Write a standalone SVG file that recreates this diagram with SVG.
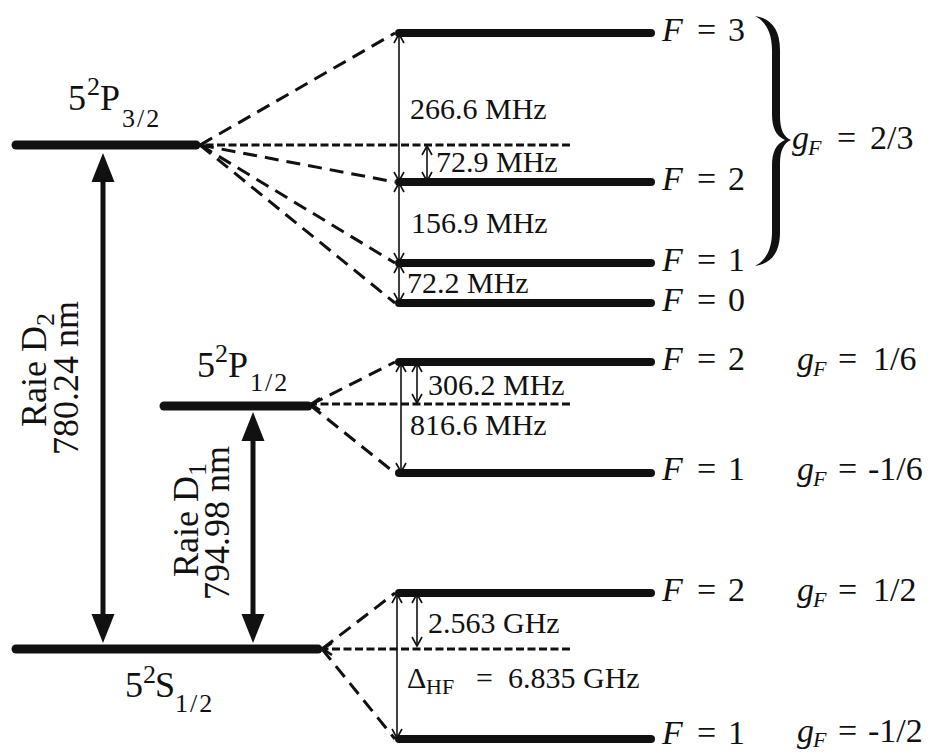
<svg xmlns="http://www.w3.org/2000/svg" width="940" height="754" viewBox="0 0 940 754">
<style>
.t{font-family:"Liberation Serif","DejaVu Serif",serif;fill:#111}
.lv{font-size:36px}
.ss{font-size:26px}
.sl{letter-spacing:2px}
.fr{font-size:30px}
.fl{font-size:34px}
.sub{font-size:22px}
.it{font-style:italic}
.fine{stroke:#111;stroke-width:9;stroke-linecap:round;fill:none}
.hf{stroke:#111;stroke-width:8;stroke-linecap:round;fill:none}
.dash{stroke:#111;stroke-width:3;stroke-dasharray:14 8;fill:none}
.cdash{stroke:#111;stroke-width:3;stroke-dasharray:8 3.5;fill:none}
.gap{stroke:#111;stroke-width:1.6;fill:none}
.big{stroke:#111;stroke-width:5;fill:none}
</style>
<defs>
<marker id="oa" markerUnits="userSpaceOnUse" viewBox="-11 -7 13 14" markerWidth="13" markerHeight="14" refX="0" refY="0" orient="auto-start-reverse">
<path d="M-9,-5 L0,0 L-9,5" fill="none" stroke="#111" stroke-width="1.6" stroke-dasharray="none"/>
</marker>
<marker id="da" markerUnits="userSpaceOnUse" viewBox="-12 -8 14 16" markerWidth="14" markerHeight="16" refX="0" refY="0" orient="auto">
<path d="M-9,-6 L0,0 L-9,6" fill="none" stroke="#111" stroke-width="2.5" stroke-dasharray="none"/>
</marker>
<marker id="bg" markerUnits="userSpaceOnUse" viewBox="0 -12 30 24" markerWidth="30" markerHeight="24" refX="0" refY="0" orient="auto-start-reverse">
<path d="M0,-11.5 L29,0 L0,11.5 Z" fill="#111" stroke="none"/>
</marker>
</defs>
<rect width="940" height="754" fill="#fff"/>

<g id="connectors">
<line class="dash" x1="200" y1="145" x2="395" y2="33"/>
<line class="dash" x1="200" y1="145" x2="395" y2="182"/>
<line class="dash" x1="200" y1="145" x2="395" y2="263"/>
<line class="dash" x1="200" y1="145" x2="395" y2="303"/>
<line class="cdash" x1="570" y1="145" x2="201" y2="145" marker-end="url(#da)"/>
<line class="dash" x1="310" y1="405" x2="395" y2="362"/>
<line class="dash" x1="310" y1="405" x2="395" y2="473"/>
<line class="cdash" x1="570" y1="404" x2="311" y2="404" marker-end="url(#da)"/>
<line class="dash" x1="322" y1="649" x2="395" y2="593"/>
<line class="dash" x1="322" y1="649" x2="395" y2="739"/>
<line class="cdash" x1="570" y1="649" x2="323" y2="649" marker-end="url(#da)"/>
<line class="gap" x1="399" y1="34" x2="399" y2="181" marker-start="url(#oa)" marker-end="url(#oa)"/>
<line class="gap" x1="427" y1="146" x2="427" y2="181" marker-start="url(#oa)" marker-end="url(#oa)"/>
<line class="gap" x1="399" y1="183" x2="399" y2="262" marker-start="url(#oa)" marker-end="url(#oa)"/>
<line class="gap" x1="399" y1="264" x2="399" y2="302" marker-start="url(#oa)" marker-end="url(#oa)"/>
<line class="gap" x1="401" y1="363" x2="401" y2="472" marker-start="url(#oa)" marker-end="url(#oa)"/>
<line class="gap" x1="417" y1="363" x2="417" y2="403" marker-start="url(#oa)" marker-end="url(#oa)"/>
<line class="gap" x1="397" y1="594" x2="397" y2="738" marker-start="url(#oa)" marker-end="url(#oa)"/>
<line class="gap" x1="417" y1="594" x2="417" y2="646" marker-start="url(#oa)" marker-end="url(#oa)"/>
<line class="big" x1="103" y1="182" x2="103" y2="614" marker-start="url(#bg)" marker-end="url(#bg)"/>
<line class="big" x1="253" y1="441" x2="253" y2="614" marker-start="url(#bg)" marker-end="url(#bg)"/>
</g>

<g id="P32">
<line class="fine" x1="16" y1="145" x2="196" y2="145"/>
<text class="t"><tspan class="lv" x="68" y="110">5</tspan><tspan class="ss" x="87" y="95">2</tspan><tspan class="lv" x="100" y="110">P</tspan><tspan class="ss sl" x="122" y="127">3/2</tspan></text>
</g>
<g id="P32-F3">
<line class="hf" x1="399" y1="33" x2="651" y2="33"/>
<text class="t fl"><tspan class="it" x="662" y="41">F</tspan><tspan x="697">=</tspan><tspan x="728">3</tspan></text>
</g>
<g id="P32-F2">
<line class="hf" x1="399" y1="182" x2="651" y2="182"/>
<text class="t fl"><tspan class="it" x="662" y="190">F</tspan><tspan x="697">=</tspan><tspan x="728">2</tspan></text>
</g>
<g id="P32-F1">
<line class="hf" x1="399" y1="263" x2="651" y2="263"/>
<text class="t fl"><tspan class="it" x="662" y="271">F</tspan><tspan x="697">=</tspan><tspan x="728">1</tspan></text>
</g>
<g id="P32-F0">
<line class="hf" x1="399" y1="303" x2="651" y2="303"/>
<text class="t fl"><tspan class="it" x="662" y="311">F</tspan><tspan x="697">=</tspan><tspan x="728">0</tspan></text>
</g>
<g id="P32-g">
<path d="M755,16 C770,18 780,28 780,50 L780,116 C780,130 784,137 791,140 C784,143 780,150 780,164 L780,232 C780,254 770,264 755,266 C765,261 772,250 772,232 L772,166 C772,152 776,144 785,140 C776,136 772,128 772,114 L772,50 C772,32 765,21 755,16 Z" fill="#111"/>
<text class="t fl"><tspan class="it" x="792" y="149">g</tspan><tspan class="it sub" x="808" y="155">F</tspan><tspan x="837" y="149">=</tspan><tspan x="870">2/3</tspan></text>
</g>

<g id="P12">
<line class="fine" x1="164" y1="406" x2="308" y2="406"/>
<text class="t"><tspan class="lv" x="197" y="377">5</tspan><tspan class="ss" x="215" y="362">2</tspan><tspan class="lv" x="228" y="377">P</tspan><tspan class="ss sl" x="250" y="391">1/2</tspan></text>
</g>
<g id="P12-F2">
<line class="hf" x1="399" y1="362" x2="651" y2="362"/>
<text class="t fl"><tspan class="it" x="662" y="370">F</tspan><tspan x="697">=</tspan><tspan x="728">2</tspan></text>
<text class="t fl"><tspan class="it" x="797" y="370">g</tspan><tspan class="it sub" x="813" y="376">F</tspan><tspan x="838" y="370">=</tspan><tspan x="873">1/6</tspan></text>
</g>
<g id="P12-F1">
<line class="hf" x1="399" y1="473" x2="651" y2="473"/>
<text class="t fl"><tspan class="it" x="662" y="480">F</tspan><tspan x="697">=</tspan><tspan x="728">1</tspan></text>
<text class="t fl"><tspan class="it" x="797" y="480">g</tspan><tspan class="it sub" x="813" y="486">F</tspan><tspan x="838" y="480">=</tspan><tspan x="868">-1/6</tspan></text>
</g>

<g id="S12">
<line class="fine" x1="16" y1="649" x2="318" y2="649"/>
<text class="t"><tspan class="lv" x="125" y="697">5</tspan><tspan class="ss" x="143" y="683">2</tspan><tspan class="lv" x="155" y="697">S</tspan><tspan class="ss sl" x="175" y="712">1/2</tspan></text>
</g>
<g id="S12-F2">
<line class="hf" x1="399" y1="593" x2="651" y2="593"/>
<text class="t fl"><tspan class="it" x="662" y="601">F</tspan><tspan x="697">=</tspan><tspan x="728">2</tspan></text>
<text class="t fl"><tspan class="it" x="797" y="601">g</tspan><tspan class="it sub" x="813" y="607">F</tspan><tspan x="838" y="601">=</tspan><tspan x="873">1/2</tspan></text>
</g>
<g id="S12-F1">
<line class="hf" x1="399" y1="739" x2="651" y2="739"/>
<text class="t fl"><tspan class="it" x="662" y="744">F</tspan><tspan x="697">=</tspan><tspan x="728">1</tspan></text>
<text class="t fl"><tspan class="it" x="797" y="742">g</tspan><tspan class="it sub" x="813" y="747">F</tspan><tspan x="838" y="742">=</tspan><tspan x="868">-1/2</tspan></text>
</g>

<g id="freq-labels">
<text class="t fr" x="410" y="119">266.6 MHz</text>
<text class="t fr" x="436" y="172">72.9 MHz</text>
<text class="t fr" x="411" y="233">156.9 MHz</text>
<text class="t fr" x="407" y="293">72.2 MHz</text>
<text class="t fr" x="428" y="395">306.2 MHz</text>
<text class="t fr" x="410" y="435">816.6 MHz</text>
<text class="t fr" x="428" y="633">2.563 GHz</text>
<text class="t fr"><tspan x="407" y="688">Δ</tspan><tspan class="sub" x="426" y="694">HF</tspan><tspan x="476" y="688">=</tspan><tspan x="508">6.835 GHz</tspan></text>
</g>

<g id="D2-label">
<text class="t lv" transform="translate(46,370) rotate(-90)" text-anchor="middle">Raie D<tspan class="ss" dy="8">2</tspan></text>
<text class="t lv" transform="translate(78,378) rotate(-90)" text-anchor="middle">780.24 nm</text>
</g>
<g id="D1-label">
<text class="t lv" transform="translate(198,520) rotate(-90)" text-anchor="middle">Raie D<tspan class="ss" dy="8">1</tspan></text>
<text class="t lv" transform="translate(229,523) rotate(-90)" text-anchor="middle">794.98 nm</text>
</g>
</svg>
